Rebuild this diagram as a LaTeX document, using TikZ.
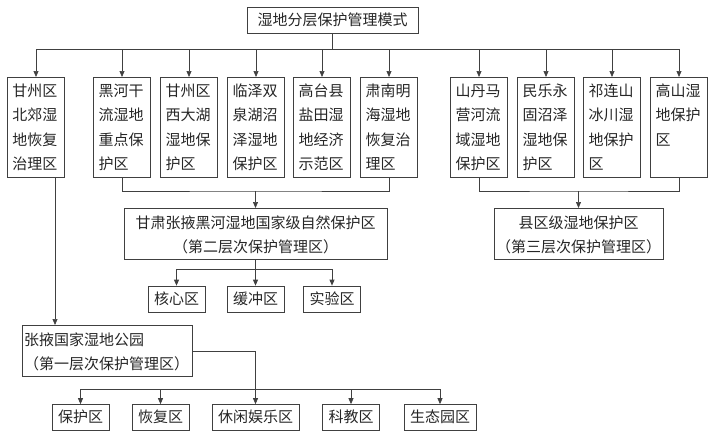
\documentclass[tikz,border=0pt]{standalone}
\usepackage{fontspec}
\setmainfont{Noto Sans CJK SC}
\usepackage{tikz}
\usetikzlibrary{calc,positioning}
\usetikzlibrary{arrows.meta}
\tikzset{>={Triangle[width=5pt,length=6pt]}}
\definecolor{lgray}{gray}{0.25}

\begin{document}
\begin{tikzpicture}[x=1pt,y=-1pt]
  \tikzstyle{bnode} = [draw=lgray, line width=0.7pt, text=black!85, font=\fontsize{15}{24.5}\selectfont]
  \tikzstyle{colnode} = [bnode, anchor=north, text width=47pt, align=left, inner xsep=5pt, inner ysep=3pt, text height=16pt, text depth=78pt]
  \tikzstyle{midnode} = [bnode, anchor=north, align=center, inner xsep=0pt, inner ysep=3pt, text height=17pt, text depth=28pt]
  \tikzstyle{leafnode} = [bnode, inner xsep=6pt, inner ysep=5pt, text height=13pt, text depth=3pt]
  \tikzstyle{link} = [draw=lgray, line width=0.7pt]
  \useasboundingbox (0,0) rectangle (718,437);

  \node[leafnode, minimum width=171pt] (top) at (332.5,20) {湿地分层保护管理模式};

  \node[colnode] (c1) at (36,77) {甘州区\\北郊湿\\地恢复\\治理区};
  \node[colnode] (c2) at (122,77) {黑河干\\流湿地\\重点保\\护区};
  \node[colnode] (c3) at (189,77) {甘州区\\西大湖\\湿地保\\护区};
  \node[colnode] (c4) at (256,77) {临泽双\\泉湖沼\\泽湿地\\保护区};
  \node[colnode] (c5) at (322,77) {高台县\\盐田湿\\地经济\\示范区};
  \node[colnode] (c6) at (389,77) {肃南明\\海湿地\\恢复治\\理区};
  \node[colnode] (c7) at (479,77) {山丹马\\营河流\\域湿地\\保护区};
  \node[colnode] (c8) at (546,77) {民乐永\\固沼泽\\湿地保\\护区};
  \node[colnode] (c9) at (612,77) {祁连山\\冰川湿\\地保护\\区};
  \node[colnode] (c10) at (679,77) {高山湿\\地保护\\区};

  \coordinate (bus1) at (332.5,49);
  \draw[link] (top) -- (bus1);
  \draw[link] (c1 |- bus1) -- (c10 |- bus1);
  \foreach \i in {1,...,10} \draw[link,->] (c\i |- bus1) -- (c\i);

  % second and third level
  \node[midnode, text width=263pt] (gs) at (255.5,208) {甘肃张掖黑河湿地国家级自然保护区\\（第二层次保护管理区）};
  \node[midnode, text width=169pt] (xq) at (578.5,208) {县区级湿地保护区\\（第三层次保护管理区）};

  \coordinate (bus2) at (255.5,191);
  \draw[link] (c2.south) |- (bus2) -| (c6.south);
  \draw[link,->] (bus2) -- (gs);
  \coordinate (bus3) at (578.5,191);
  \draw[link] (c7.south) |- (bus3) -| (c10.south);
  \draw[link,->] (bus3) -- (xq);

  \node[leafnode] (hx) at (176.5,299) {核心区};
  \node[leafnode] (hc) at (255.5,299) {缓冲区};
  \node[leafnode] (sy) at (332,299) {实验区};

  \coordinate (bus4) at (255.5,269);
  \draw[link] (gs) -- (bus4);
  \draw[link] (hx |- bus4) -- (sy |- bus4);
  \foreach \n in {hx,hc,sy} \draw[link,->] (\n |- bus4) -- (\n);

  % first level
  \node[midnode, align=left, text width=166pt, inner xsep=2pt] (zy) at (107,325) {张掖国家湿地公园\\（第一层次保护管理区）};
  \draw[link,->] ([xshift=19pt]c1.south) -- ([xshift=19pt]c1.south |- zy.north);

  \node[leafnode] (bh) at (80.5,417.5) {保护区};
  \node[leafnode] (hf) at (160.5,417.5) {恢复区};
  \node[leafnode] (xx) at (255.5,417.5) {休闲娱乐区};
  \node[leafnode] (kj) at (351,417.5) {科教区};
  \node[leafnode] (st) at (440,417.5) {生态园区};

  \coordinate (bus5) at (255.5,389);
  \draw[link,->] (zy.east) -| (xx);
  \draw[link] (bh |- bus5) -- (st |- bus5);
  \foreach \n in {bh,hf,kj,st} \draw[link,->] (\n |- bus5) -- (\n);
\end{tikzpicture}
\end{document}
